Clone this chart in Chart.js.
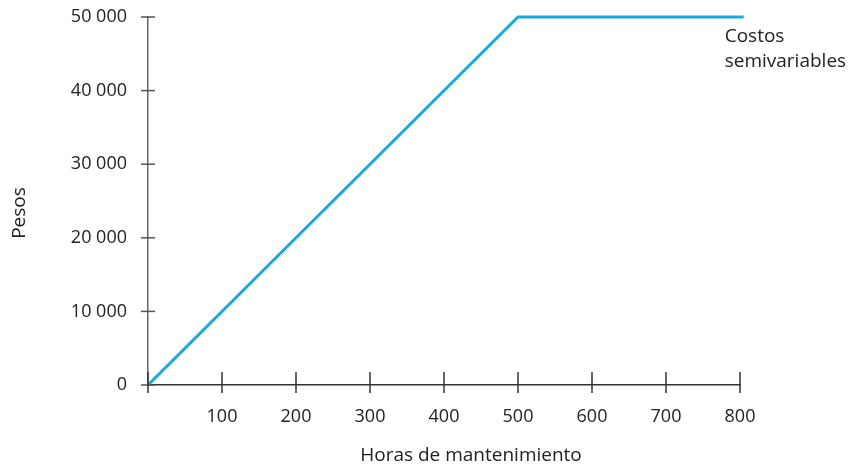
<!doctype html>
<html lang="es">
<head>
  <meta charset="utf-8">
  <title>Costos semivariables</title>
  <style>
    * { margin: 0; padding: 0; }
    body { background: #fff; }
    .chartBox { width: 851px; height: 466px; }
  </style>
</head>
<body>
  <div class="chartBox">
    <canvas id="myChart" width="851" height="466"></canvas>
  </div>
  <script src="https://cdn.jsdelivr.net/npm/chart.js"></script>
  <script>
    // data
    const hours = [0, 500, 805];
    const pesos = [0, 50000, 50000];
    const xTicks = [0, 100, 200, 300, 400, 500, 600, 700, 800];
    const yTicks = [0, 10000, 20000, 30000, 40000, 50000];
    const seriesLabel = ['Costos', 'semivariables'];
    const xTitle = 'Horas de mantenimiento';
    const yTitle = 'Pesos';

    const font = "'Open Sans', 'Noto Sans', sans-serif";

    function fmt(v) {
      return String(v).replace(/\B(?=(\d{3})+(?!\d))/g, ' ');
    }

    // tick marks crossing the axes, titles and the series note
    const axisDecor = {
      id: 'axisDecor',
      afterDraw(chart) {
        const ctx = chart.ctx;
        const x = chart.scales.x;
        const y = chart.scales.y;
        const x0 = x.getPixelForValue(0);
        const y0 = y.getPixelForValue(0);
        ctx.save();
        ctx.lineWidth = 1.5;
        ctx.strokeStyle = '#555';
        yTicks.forEach(v => {
          const py = y.getPixelForValue(v);
          ctx.beginPath();
          ctx.moveTo(x0 - 7, py);
          ctx.lineTo(x0 + 7, py);
          ctx.stroke();
        });
        ctx.strokeStyle = '#333';
        xTicks.forEach(v => {
          const px = x.getPixelForValue(v);
          ctx.beginPath();
          ctx.moveTo(px, y0 - 13);
          ctx.lineTo(px, y0 + 8);
          ctx.stroke();
        });

        ctx.fillStyle = '#222';
        ctx.font = '19px ' + font;
        ctx.textAlign = 'center';
        ctx.textBaseline = 'middle';
        ctx.fillText(xTitle, 471, 456);

        ctx.save();
        ctx.translate(20, 213);
        ctx.rotate(-Math.PI / 2);
        ctx.fillText(yTitle, 0, 0);
        ctx.restore();

        ctx.textAlign = 'left';
        const lx = x.getPixelForValue(hours[hours.length - 1]) - 19;
        const ly = y.getPixelForValue(pesos[pesos.length - 1]);
        seriesLabel.forEach((t, i) => {
          ctx.fillText(t, lx, ly + 20 + i * 25);
        });
        ctx.restore();
      }
    };

    const data = {
      datasets: [{
        label: 'Costos semivariables',
        data: hours.map((h, i) => ({ x: h, y: pesos[i] })),
        borderColor: '#19a9e1',
        borderWidth: 3,
        pointRadius: 0,
        fill: false,
        tension: 0,
        clip: false
      }]
    };

    const config = {
      type: 'line',
      data,
      options: {
        responsive: false,
        animation: false,
        layout: { padding: { left: 0, right: 111, top: 17, bottom: 0 } },
        plugins: {
          legend: { display: false },
          tooltip: { enabled: false }
        },
        scales: {
          x: {
            type: 'linear',
            min: 0,
            max: 800,
            grid: { display: false, drawTicks: false },
            border: { display: true, color: '#333', width: 1.5 },
            ticks: {
              stepSize: 100,
              padding: 21,
              color: '#222',
              font: { family: font, size: 18 },
              maxRotation: 0,
              callback: v => v === 0 ? '' : v
            },
            afterFit: s => { s.height = 81; s.paddingLeft = 0; s.paddingRight = 0; }
          },
          y: {
            min: 0,
            max: 50000,
            grid: { display: false, drawTicks: false },
            border: { display: true, color: '#666', width: 1.5 },
            ticks: {
              stepSize: 10000,
              padding: 21,
              color: '#222',
              font: { family: font, size: 18 },
              callback: v => fmt(v)
            },
            afterFit: s => { s.width = 148; s.paddingTop = 0; s.paddingBottom = 0; }
          }
        }
      },
      plugins: [axisDecor]
    };

    const myChart = new Chart(document.getElementById('myChart'), config);
  </script>
</body>
</html>
